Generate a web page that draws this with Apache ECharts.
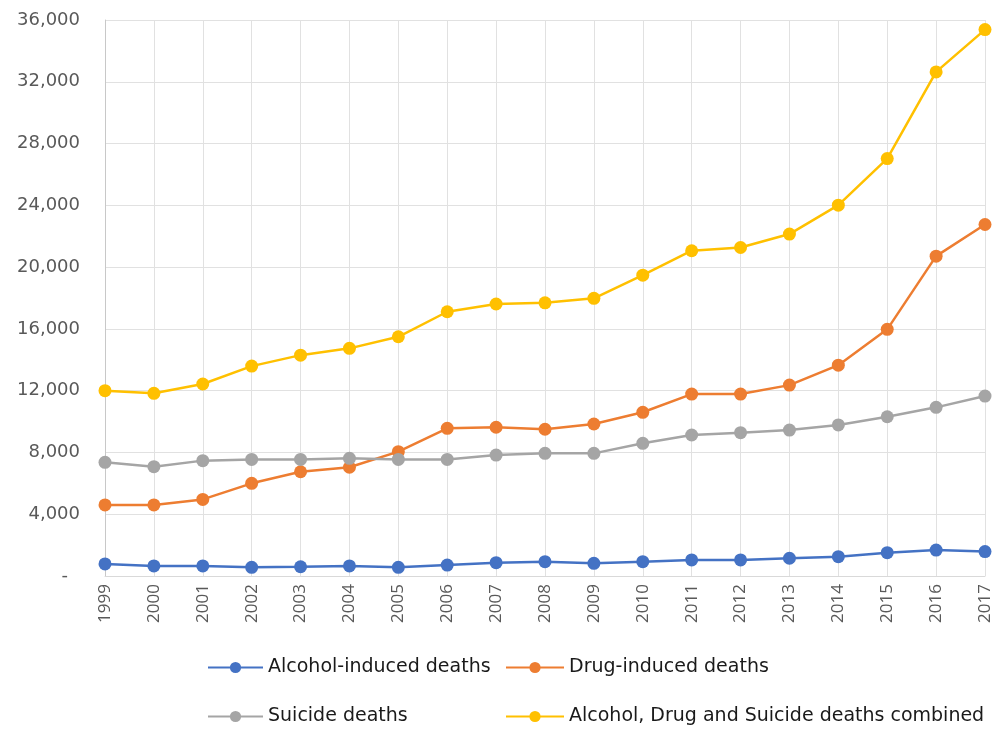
<!DOCTYPE html>
<html>
<head>
<meta charset="utf-8">
<script src="https://cdn.jsdelivr.net/npm/echarts@6/dist/echarts.min.js"></script>
<style>
  html, body { margin: 0; padding: 0; background: #ffffff; }
  #chart { width: 1001px; height: 733px; }
</style>
</head>
<body>
<div id="chart"></div>
<script>
// Years on the category axis
const years = ['1999','2000','2001','2002','2003','2004','2005','2006','2007','2008',
               '2009','2010','2011','2012','2013','2014','2015','2016','2017'];

// Deaths per year, by cause
const alcoholDeaths = [780, 650, 650, 560, 600, 650, 560, 710, 860, 930,
                       820, 930, 1040, 1040, 1150, 1250, 1510, 1680, 1580];
const drugDeaths    = [4600, 4600, 4960, 6000, 6750, 7040, 8050, 9560, 9630, 9500,
                       9840, 10600, 11780, 11780, 12360, 13650, 15970, 20710, 22760];
const suicideDeaths = [7360, 7080, 7470, 7550, 7550, 7620, 7550, 7550, 7830, 7940,
                       7940, 8590, 9130, 9280, 9450, 9780, 10310, 10920, 11650];
const combinedDeaths = [12000, 11830, 12430, 13590, 14300, 14740, 15490, 17110, 17610, 17690,
                        17980, 19480, 21060, 21270, 22140, 24010, 27030, 32640, 35380];

// Value axis ticks
const yMin = 0, yMax = 36000, yStep = 4000;

const seriesNames = [
  'Alcohol-induced deaths',
  'Drug-induced deaths',
  'Suicide deaths',
  'Alcohol, Drug and Suicide deaths combined'
];
const seriesColors = ['#4472C4', '#ED7D31', '#A5A5A5', '#FFC000'];
const seriesData = [alcoholDeaths, drugDeaths, suicideDeaths, combinedDeaths];

const chart = echarts.init(document.getElementById('chart'), null, { renderer: 'canvas' });

const legendText = { fontFamily: 'DejaVu Sans', fontSize: 19, color: '#1a1a1a' };

chart.setOption({
  backgroundColor: '#ffffff',
  animation: false,
  grid: { left: 105, right: 16, top: 20, bottom: 157, containLabel: false },
  legend: [
    {
      data: [seriesNames[0], seriesNames[2]],
      orient: 'vertical',
      left: 202, top: 653,
      itemWidth: 55, itemHeight: 14, itemGap: 30,
      textStyle: legendText
    },
    {
      data: [seriesNames[1], seriesNames[3]],
      orient: 'vertical',
      left: 500, top: 653,
      itemWidth: 58, itemHeight: 14, itemGap: 30,
      textStyle: legendText
    }
  ],
  xAxis: {
    type: 'category',
    data: years,
    boundaryGap: false,
    axisLine: { lineStyle: { color: '#d9d9d9', width: 1 } },
    axisTick: { show: false },
    splitLine: { show: true, lineStyle: { color: '#e1e1e1', width: 1 } },
    axisLabel: {
      rotate: 90,
      margin: 8,
      interval: 0,
      fontFamily: 'Open Sans',
      fontSize: 17,
      color: '#595959'
    }
  },
  yAxis: {
    type: 'value',
    min: yMin, max: yMax, interval: yStep,
    axisLine: { show: true, lineStyle: { color: '#c8c8c8', width: 1 } },
    axisTick: { show: false },
    splitLine: { show: true, lineStyle: { color: '#e1e1e1', width: 1 } },
    axisLabel: {
      margin: 25,
      fontFamily: 'DejaVu Sans',
      fontSize: 18,
      color: '#595959',
      formatter: function (v) {
        if (v === 0) return '{dash|-}';
        return v.toLocaleString('en-US');
      },
      rich: {
        dash: { fontFamily: 'DejaVu Sans', fontSize: 18, color: '#595959', padding: [0, 12, 0, 0] }
      }
    }
  },
  series: seriesNames.map(function (name, i) {
    return {
      name: name,
      type: 'line',
      data: seriesData[i],
      color: seriesColors[i],
      symbol: 'circle',
      symbolSize: 13,
      showAllSymbol: true,
      lineStyle: { width: 2.5, color: seriesColors[i] },
      itemStyle: { color: seriesColors[i] },
      z: 2 + i
    };
  })
});
</script>
</body>
</html>
